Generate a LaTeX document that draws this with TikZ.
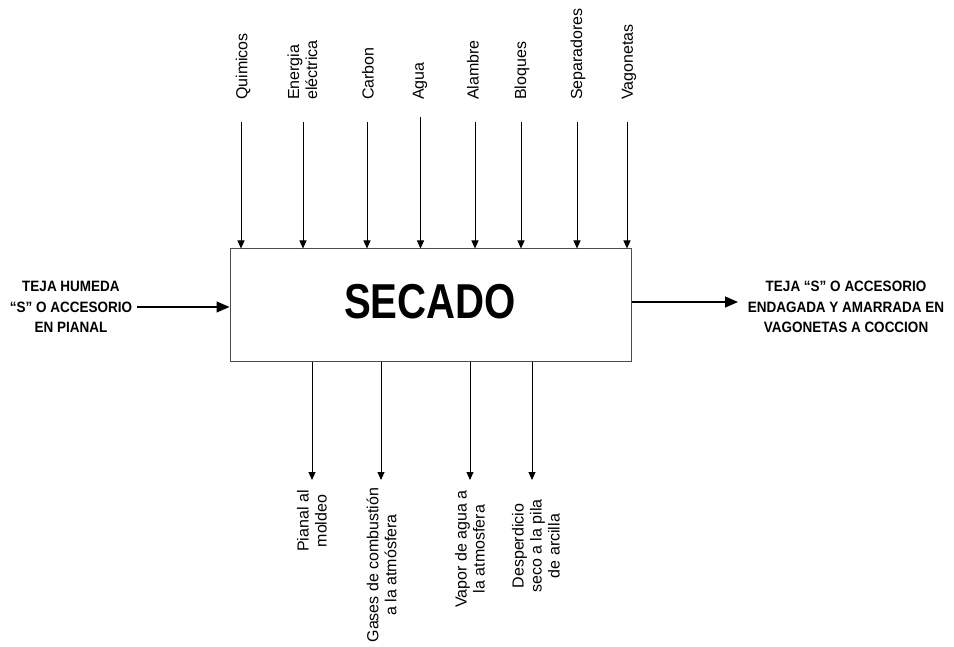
\documentclass[tikz,border=0pt]{standalone}
\usepackage{fontspec}
\setmainfont{Liberation Sans}
\newfontfamily\titlefont{Liberation Sans}[FakeStretch=0.82]
\newfontfamily\sidefont{Liberation Sans}[FakeStretch=0.9]
\usetikzlibrary{arrows.meta}
\begin{document}
\begin{tikzpicture}[x=1pt,y=-1pt,
  inarrow/.style={draw=black,line width=0.9pt,-{Triangle[length=8pt,width=7pt]}},
  bigarrow/.style={draw=black,line width=1.2pt,-{Triangle[length=13pt,width=11pt]}},
  toplabel/.style={rotate=90,anchor=west,align=left,inner sep=0pt,font=\fontsize{16}{18}\selectfont},
  botlabel/.style={rotate=90,anchor=center,align=center,inner sep=0pt,font=\fontsize{16}{18}\selectfont},
  sidelabel/.style={align=center,inner sep=0pt,font=\sidefont\bfseries\fontsize{15}{20.5}\selectfont},
  procbox/.style={draw=black!70,line width=1pt,minimum width=401pt,minimum height=112pt,inner sep=0pt}]
\useasboundingbox (0,0) rectangle (954,647);

\node[procbox] (secado) at (430.5,305) {};
\node[font=\titlefont\bfseries\fontsize{49}{49}\selectfont,inner sep=0pt] (title) at (430,302) {SECADO};

% top inputs
\node[toplabel] (l1) at (243,100) {Quimicos};
\node[toplabel] (l2) at (302.5,100) {Energia\\eléctrica};
\node[toplabel] (l3) at (368,100) {Carbon};
\node[toplabel] (l4) at (420,100) {Agua};
\node[toplabel] (l5) at (473,100) {Alambre};
\node[toplabel] (l6) at (522,100) {Bloques};
\node[toplabel] (l7) at (578,100) {Separadores};
\node[toplabel] (l8) at (629,100) {Vagonetas};

\coordinate (t1) at (241,122);
\coordinate (t2) at (303,122);
\coordinate (t3) at (367,122);
\coordinate (t4) at (420.5,117);
\coordinate (t5) at (475,122);
\coordinate (t6) at (521,122);
\coordinate (t7) at (577,122);
\coordinate (t8) at (627,122);
\foreach \i in {1,...,8} {\draw[inarrow] (t\i) -- (t\i |- secado.north);}

% bottom outputs
\coordinate (b1) at (312,480);
\coordinate (b2) at (381,480);
\coordinate (b3) at (470,480);
\coordinate (b4) at (532,480);
\foreach \i in {1,...,4} {\draw[inarrow] (b\i |- secado.south) -- (b\i);}

\node[botlabel] (o1) at (312,521) {Pianal al\\moldeo};
\node[botlabel] (o2) at (381.5,565) {Gases de combustión\\a la atmósfera};
\node[botlabel] (o3) at (470,549) {Vapor de agua a\\la atmosfera};
\node[botlabel] (o4) at (536,546) {Desperdicio\\seco a la pila\\de arcilla};

% side input / output
\node[sidelabel] (inp) at (71,307) {TEJA HUMEDA\\“S” O ACCESORIO\\EN PIANAL};
\coordinate (ia) at (137,307);
\draw[bigarrow] (ia) -- (ia -| secado.west);

\node[sidelabel] (outp) at (846,307) {TEJA “S” O ACCESORIO\\ENDAGADA Y AMARRADA EN\\VAGONETAS A COCCION};
\coordinate (oa) at (738,302);
\draw[bigarrow] (oa -| secado.east) -- (oa);
\end{tikzpicture}
\end{document}
